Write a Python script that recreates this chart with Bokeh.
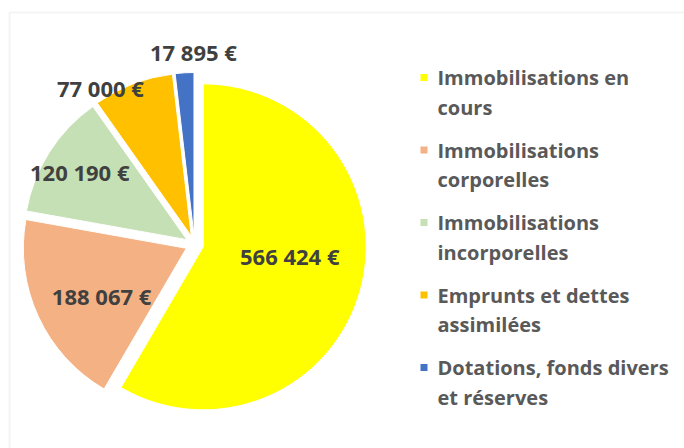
import numpy as np
from bokeh.plotting import figure
from bokeh.models import ColumnDataSource, Range1d, BoxAnnotation
from bokeh.core.properties import value
from bokeh.embed import file_html
from bokeh.resources import INLINE

# ---- data ----
categories = ["Immobilisations en cours", "Immobilisations corporelles",
              "Immobilisations incorporelles", "Emprunts et dettes assimilées",
              "Dotations, fonds divers et réserves"]
legend_lines = [["Immobilisations en", "cours"],
                ["Immobilisations", "corporelles"],
                ["Immobilisations", "incorporelles"],
                ["Emprunts et dettes", "assimilées"],
                ["Dotations, fonds divers", "et réserves"]]
values = [566424, 188067, 120190, 77000, 17895]
colors = ["#FFFF00", "#F4B183", "#C5E0B4", "#FFC000", "#4472C4"]

# ---- layout ----
W, H = 684, 448
FONT = "Open Sans"
cx, cy = 194, H - 244
R = 163
explode = 9
label_dist = [96, 106, 136, 183, 193]
label_shift_deg = [-8, -4, 0, -10, 3]

p = figure(width=W, height=H, x_range=Range1d(0, W), y_range=Range1d(0, H),
           output_backend="svg", toolbar_location=None,
           x_axis_location=None, y_axis_location=None, min_border=0)
p.grid.visible = False
p.outline_line_color = None
p.background_fill_color = "white"
p.border_fill_color = "white"

vals = np.array(values, dtype=float)
frac = vals / vals.sum()
theta_end = np.cumsum(frac) * 2 * np.pi
theta_start = theta_end - frac * 2 * np.pi
mid = (theta_start + theta_end) / 2

src = ColumnDataSource(dict(
    x=cx + explode * np.sin(mid),
    y=cy + explode * np.cos(mid),
    start=np.pi / 2 - theta_start,
    end=np.pi / 2 - theta_end,
    color=colors,
))
p.wedge(x="x", y="y", radius=R, start_angle="start", end_angle="end",
        direction="clock", fill_color="color", line_color="white",
        line_width=1, source=src)

# data labels
lab_theta = mid + np.radians(label_shift_deg)
lab_src = ColumnDataSource(dict(
    x=cx + np.array(label_dist) * np.sin(lab_theta),
    y=cy + np.array(label_dist) * np.cos(lab_theta),
    text=[f"{v:,}".replace(",", " ") + " €" for v in values],
))
p.text(x="x", y="y", text="text", source=lab_src, text_font=value(FONT),
       text_font_style="bold", text_font_size="22px", text_color="#404040",
       text_align="center", text_baseline="middle")

# legend
leg_x, leg_y0, item_gap, line_gap = 420, H - 77, 72.5, 29.5
sq = 7
p.rect(x=[leg_x + sq / 2] * len(values),
       y=[leg_y0 - i * item_gap for i in range(len(values))],
       width=sq, height=sq, fill_color=colors, line_color=None)
tx, ty, tt = [], [], []
for i, lines in enumerate(legend_lines):
    for j, line in enumerate(lines):
        tx.append(leg_x + 17)
        ty.append(leg_y0 - i * item_gap - j * line_gap)
        tt.append(line)
p.text(x=tx, y=ty, text=tt, text_font=value(FONT), text_font_style="bold",
       text_font_size="20px", text_color="#595959",
       text_align="left", text_baseline="middle")

# chart border (cropped frame)
p.add_layout(BoxAnnotation(left=9, right=W + 20, top=H - 12, bottom=-20,
                           fill_color=None, line_color="#D9D9D9", line_width=2))

open("out.html", "w").write(file_html(p, INLINE))
